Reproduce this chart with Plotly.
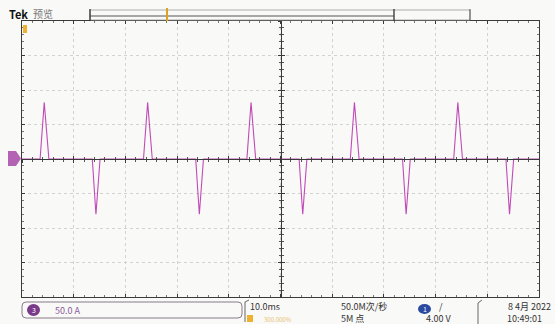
import plotly.graph_objects as go

# ---- data (time in ms, current in A) ----
wave_t = [0, 3.5, 4.3, 5.2, 13.6, 14.3, 15.1,
          23.5, 24.3, 25.2, 33.6, 34.3, 35.1,
          43.5, 44.3, 45.2, 53.6, 54.3, 55.1,
          63.5, 64.3, 65.2, 73.6, 74.3, 75.1,
          83.5, 84.3, 85.2, 93.6, 94.3, 95.1, 100]
wave_i = [0, 0, 82, 0, 0, -80, 0,
          0, 82, 0, 0, -80, 0,
          0, 82, 0, 0, -80, 0,
          0, 82, 0, 0, -80, 0,
          0, 82, 0, 0, -80, 0, 0]

x_range = [0, 100]      # 10 div x 10 ms
y_range = [-200, 200]   # 8 div x 50 A
x_div = 10
y_div = 50

W, H = 555, 324
def px(x): return x / W
def py(y): return 1 - y / H

xdom = [px(22), px(539)]
ydom = [py(297), py(21)]
xc = (xdom[0] + xdom[1]) / 2
yc = (ydom[0] + ydom[1]) / 2

BG = "#f9f9f7"
FRAME = "#3a3a3a"
TRACE = "#c24ab8"

fig = go.Figure()
fig.add_trace(go.Scatter(x=wave_t, y=wave_i, mode="lines",
                         line=dict(color=TRACE, width=1.1),
                         hoverinfo="skip", showlegend=False))
# helper empty traces to show center-axis overlays
for ax in ("2", "3"):
    fig.add_trace(go.Scatter(x=[None], y=[None], xaxis="x" + ax, yaxis="y" + ax,
                             showlegend=False, hoverinfo="skip"))

common_x = dict(range=x_range, domain=xdom, dtick=x_div, showticklabels=False,
                zeroline=False, fixedrange=True)
common_y = dict(range=y_range, domain=ydom, dtick=y_div, showticklabels=False,
                zeroline=False, fixedrange=True)

GRID = "#d2d2d2"
fig.update_layout(
    width=W, height=H, margin=dict(l=0, r=0, t=0, b=0),
    paper_bgcolor=BG, plot_bgcolor=BG,
    xaxis=dict(**common_x, showgrid=True, gridcolor=GRID, griddash="dot", gridwidth=1,
               showline=True, linecolor=FRAME, linewidth=1.3, mirror="ticks",
               ticks="inside", ticklen=3, tickcolor=FRAME,
               minor=dict(dtick=2, ticks="inside", ticklen=2, tickcolor="#777", showgrid=False)),
    yaxis=dict(**common_y, showgrid=True, gridcolor=GRID, griddash="dot", gridwidth=1,
               showline=True, linecolor=FRAME, linewidth=1.3, mirror="ticks",
               ticks="inside", ticklen=3, tickcolor=FRAME,
               minor=dict(dtick=10, ticks="inside", ticklen=2, tickcolor="#777", showgrid=False)),
    xaxis2=dict(**common_x, overlaying="x", anchor="free", position=yc, showgrid=False,
                showline=True, linecolor=FRAME, linewidth=1.3, ticks="inside", ticklen=3,
                tickcolor=FRAME, minor=dict(dtick=2, ticks="inside", ticklen=2, tickcolor="#555")),
    yaxis2=dict(**common_y, overlaying="y", anchor="free", position=xc, showgrid=False,
                showline=True, linecolor=FRAME, linewidth=1.3, ticks="inside", ticklen=3,
                tickcolor=FRAME, minor=dict(dtick=10, ticks="inside", ticklen=2, tickcolor="#555")),
    xaxis3=dict(**common_x, overlaying="x", anchor="free", position=yc, showgrid=False,
                showline=False, ticks="outside", ticklen=3, tickcolor=FRAME,
                minor=dict(dtick=2, ticks="outside", ticklen=2, tickcolor="#555")),
    yaxis3=dict(**common_y, overlaying="y", anchor="free", position=xc, showgrid=False,
                showline=False, ticks="outside", ticklen=3, tickcolor=FRAME,
                minor=dict(dtick=10, ticks="outside", ticklen=2, tickcolor="#555")),
)

shapes = []
# top record bar
shapes.append(dict(type="rect", xref="paper", yref="paper", x0=px(90), x1=px(470), y0=py(20), y1=py(10),
                   line=dict(color="#9a9a9a", width=0.8)))
shapes.append(dict(type="line", xref="paper", yref="paper", x0=px(90), x1=px(394), y0=py(16), y1=py(16),
                   line=dict(color="#555", width=1)))
shapes.append(dict(type="line", xref="paper", yref="paper", x0=px(90), x1=px(90), y0=py(9), y1=py(21),
                   line=dict(color="#333", width=1.3)))
shapes.append(dict(type="line", xref="paper", yref="paper", x0=px(394), x1=px(394), y0=py(9), y1=py(21),
                   line=dict(color="#333", width=1.3)))
shapes.append(dict(type="line", xref="paper", yref="paper", x0=px(470), x1=px(470), y0=py(9), y1=py(21),
                   line=dict(color="#555", width=1)))
shapes.append(dict(type="line", xref="paper", yref="paper", x0=px(167), x1=px(167), y0=py(8), y1=py(21),
                   line=dict(color="#e0a020", width=2)))
# trigger position marker (orange) at top-left of graticule
shapes.append(dict(type="rect", xref="paper", yref="paper", x0=px(23), x1=px(27), y0=py(33), y1=py(25),
                   line=dict(width=0), fillcolor="#f0b030"))
# ground marker
shapes.append(dict(type="path", xref="paper", yref="paper",
                   path=f"M {px(8)},{py(151)} L {px(16)},{py(151)} L {px(21)},{py(158.5)} "
                        f"L {px(16)},{py(166)} L {px(8)},{py(166)} Z",
                   line=dict(width=0), fillcolor="#b462b4"))
# bottom channel box
shapes.append(dict(type="path", xref="paper", yref="paper",
                   path=f"M {px(26)},{py(302)} L {px(238)},{py(302)} Q {px(242)},{py(302)} {px(242)},{py(306)} "
                        f"L {px(242)},{py(314)} Q {px(242)},{py(318)} {px(238)},{py(318)} "
                        f"L {px(26)},{py(318)} Q {px(22)},{py(318)} {px(22)},{py(314)} "
                        f"L {px(22)},{py(306)} Q {px(22)},{py(302)} {px(26)},{py(302)} Z",
                   line=dict(color="#8a7a8a", width=1)))
shapes.append(dict(type="circle", xref="paper", yref="paper", x0=px(27), x1=px(40), y0=py(316), y1=py(304),
                   line=dict(width=0), fillcolor="#7a3a8a"))
# time bracket
shapes.append(dict(type="path", xref="paper", yref="paper",
                   path=f"M {px(249)},{py(300)} L {px(245)},{py(302)} L {px(245)},{py(322)}",
                   line=dict(color="#666", width=1)))
shapes.append(dict(type="rect", xref="paper", yref="paper", x0=px(247), x1=px(253), y0=py(322), y1=py(315),
                   line=dict(width=0), fillcolor="#f0b030"))
# trigger channel ellipse
shapes.append(dict(type="circle", xref="paper", yref="paper", x0=px(418), x1=px(431), y0=py(314), y1=py(304),
                   line=dict(width=0), fillcolor="#2a4aa0"))
# date bracket
shapes.append(dict(type="path", xref="paper", yref="paper",
                   path=f"M {px(482)},{py(300)} L {px(478)},{py(303)} L {px(478)},{py(324)}",
                   line=dict(color="#666", width=1)))
fig.update_layout(shapes=shapes)

F = "Noto Sans CJK SC"
ann = []
def t(x, y, s, size=9, color="#333", anchor="left", bold=False):
    ann.append(dict(x=px(x), y=py(y), xref="paper", yref="paper", text=(f"<b>{s}</b>" if bold else s),
                    showarrow=False, xanchor=anchor, yanchor="middle",
                    font=dict(family=F, size=size, color=color)))

t(7, 14, "Tek", 11, "#111", bold=True)
t(31, 14, "预览", 10, "#777")
t(33.5, 310, "3", 7, "#ffffff", anchor="center")
t(53, 310, "50.0 A", 9, "#8a5a9a")
t(248, 306, "10.0ms", 9, "#333")
t(262, 319, "300.000%", 6, "#e8c070")
t(339, 306, "50.0M次/秒", 9, "#333")
t(339, 318, "5M 点", 9, "#333")
t(424.5, 309, "1", 7, "#ffffff", anchor="center")
t(437, 306, "/", 9, "#333")
t(424, 318, "4.00 V", 9, "#333")
t(553, 306, "8 4月 2022", 9, "#333", anchor="right")
t(505, 318, "10:49:01", 9, "#333")
fig.update_layout(annotations=ann)

fig.write_html("out.html")
